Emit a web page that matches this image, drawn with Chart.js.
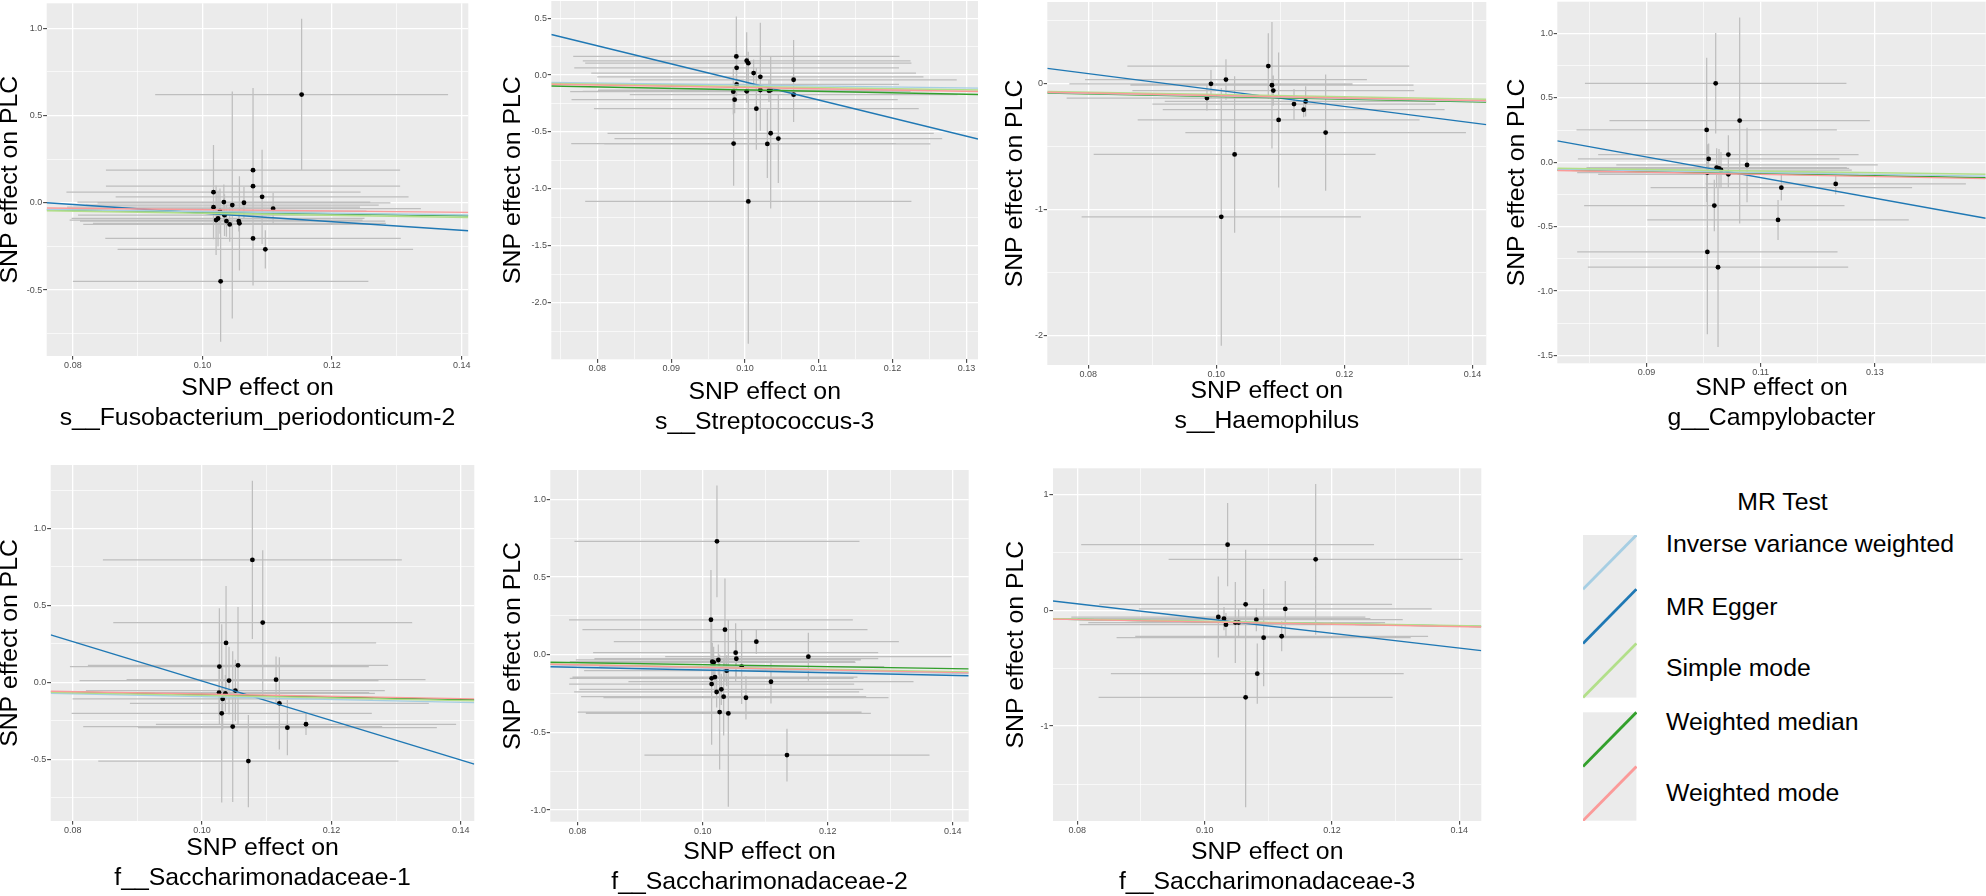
<!DOCTYPE html>
<html><head><meta charset="utf-8">
<script src="https://cdn.jsdelivr.net/npm/chart.js@4.4.0/dist/chart.umd.min.js"></script>
<style>
html,body{margin:0;padding:0;background:#fff;}
body{width:1986px;height:896px;position:relative;overflow:hidden;font-family:'Liberation Sans',Arial,sans-serif;}
canvas{position:absolute;}
.lgt{position:absolute;font-size:24.8px;line-height:24.8px;color:#000;white-space:nowrap;}
</style></head><body>
<script>
// ---------- DATA ----------
const methodNames = ['Inverse variance weighted','MR Egger','Simple mode','Weighted median','Weighted mode'];
const methodColors = ['#a6cee3','#1f78b4','#b2df8a','#33a02c','#fb9a99'];
const outcomeName = 'PLC';
const exposureNames = ['s__Fusobacterium_periodonticum-2','s__Streptococcus-3','s__Haemophilus','g__Campylobacter','f__Saccharimonadaceae-1','f__Saccharimonadaceae-2','f__Saccharimonadaceae-3'];

// Panel 1
const p1Exposure = [0.1153,0.1078,0.1078,0.1092,0.1017,0.1017,0.1033,0.1046,0.1064,0.1109,0.1027,0.1034,0.1024,0.1021,0.1037,0.1042,0.1056,0.1057,0.1078,0.1097,0.1028];
const p1Outcome  = [0.620,0.187,0.095,0.034,0.061,-0.025,0.004,-0.013,0.000,-0.034,-0.048,-0.071,-0.090,-0.099,-0.105,-0.124,-0.105,-0.118,-0.204,-0.267,-0.450];
const p1SeExp    = [0.0226,0.0227,0.0227,0.0226,0.0227,0.0226,0.0226,0.0226,0.0226,0.0228,0.0226,0.0226,0.0226,0.0226,0.0226,0.0226,0.0226,0.0226,0.0228,0.0228,0.0228];
const p1SeOut    = [0.434,0.47,0.15,0.27,0.27,0.16,0.10,0.65,0.09,0.09,0.13,0.12,0.16,0.20,0.09,0.10,0.06,0.27,0.27,0.11,0.346];
const p1Slope    = [-0.50,-2.46,-0.60,-0.53,-0.39];
const p1Intercept= [0,0.187,0,0,0];
const p1XRange = [0.07596,0.14102], p1YRange = [-0.878,1.143];
const p1XTicks = [0.08,0.10,0.12,0.14], p1XLabels = ['0.08','0.10','0.12','0.14'];
const p1YTicks = [-0.5,0.0,0.5,1.0], p1YLabels = ['-0.5','0.0','0.5','1.0'];

// Panel 2
const p2Exposure = [0.09883,0.09887,0.10023,0.10045,0.10117,0.10208,0.09887,0.09842,0.10023,0.10208,0.10325,0.10348,0.09860,0.10154,0.10348,0.10452,0.10303,0.09846,0.10659,0.10659,0.10045];
const p2Outcome  = [0.164,0.064,0.126,0.105,0.018,-0.015,-0.082,-0.146,-0.143,-0.131,-0.137,-0.131,-0.216,-0.295,-0.511,-0.558,-0.605,-0.602,-0.041,-0.172,-1.110];
const p2SeExp    = [0.0221,0.0220,0.0222,0.0221,0.0220,0.0221,0.0220,0.0221,0.0222,0.0220,0.0221,0.0222,0.0221,0.0220,0.0221,0.0222,0.0221,0.0220,0.0221,0.0222,0.0221];
const p2SeOut    = [0.35,0.15,0.25,0.10,0.12,0.475,0.10,0.20,0.10,0.12,0.10,0.29,0.12,0.36,0.66,0.39,0.30,0.37,0.35,0.24,1.25];
const p2Slope    = [-0.87,-15.87,-1.00,-1.30,-1.10];
const p2Intercept= [0,1.527,0,0,0];
const p2XRange = [0.07376,0.13157], p2YRange = [-2.497,0.651];
const p2XTicks = [0.08,0.09,0.10,0.11,0.12,0.13], p2XLabels = ['0.08','0.09','0.10','0.11','0.12','0.13'];
const p2YTicks = [-2.0,-1.5,-1.0,-0.5,0.0,0.5], p2YLabels = ['-2.0','-1.5','-1.0','-0.5','0.0','0.5'];

// Panel 3
const p3Exposure = [0.10812,0.09917,0.10151,0.09854,0.10869,0.10890,0.10973,0.11213,0.11364,0.11395,0.11707,0.10286,0.10078];
const p3Outcome  = [0.136,-0.005,0.029,-0.118,-0.016,-0.058,-0.291,-0.165,-0.210,-0.144,-0.391,-0.564,-1.058];
const p3SeExp    = [0.0220,0.0221,0.0220,0.0219,0.0221,0.0220,0.0220,0.0221,0.0220,0.0220,0.0219,0.0220,0.0218];
const p3SeOut    = [0.26,0.11,0.16,0.10,0.50,0.12,0.535,0.12,0.06,0.12,0.46,0.62,1.02];
const p3Slope    = [-1.00,-6.50,-0.89,-1.05,-0.98];
const p3Intercept= [0,0.596,0,0,0];
const p3XRange = [0.07362,0.14215], p3YRange = [-2.231,0.643];
const p3XTicks = [0.08,0.10,0.12,0.14], p3XLabels = ['0.08','0.10','0.12','0.14'];
const p3YTicks = [-2,-1,0], p3YLabels = ['-2','-1','0'];

// Panel 4
const p4Exposure = [0.10212,0.10632,0.10054,0.10089,0.10434,0.10761,0.10229,0.10270,0.10305,0.10066,0.10434,0.11362,0.12314,0.11304,0.10188,0.10066,0.10253];
const p4Outcome  = [0.613,0.324,0.251,0.026,0.060,-0.021,-0.041,-0.047,-0.060,-0.080,-0.093,-0.197,-0.168,-0.448,-0.336,-0.696,-0.815];
const p4SeExp    = [0.0229,0.0228,0.0228,0.0229,0.0228,0.0229,0.0228,0.0228,0.0229,0.0228,0.0228,0.0229,0.0228,0.0229,0.0228,0.0228,0.0228];
const p4SeOut    = [0.39,0.80,0.56,0.12,0.15,0.29,0.15,0.15,0.14,0.22,0.10,0.10,0.08,0.155,0.20,0.64,0.62];
const p4Slope    = [-0.72,-8.01,-0.62,-0.80,-0.85];
const p4Intercept= [0,0.762,0,0,0];
const p4XRange = [0.07438,0.14941], p4YRange = [-1.561,1.247];
const p4XTicks = [0.09,0.11,0.13], p4XLabels = ['0.09','0.11','0.13'];
const p4YTicks = [-1.5,-1.0,-0.5,0.0,0.5,1.0], p4YLabels = ['-1.5','-1.0','-0.5','0.0','0.5','1.0'];

// Panel 5
const p5Exposure = [0.10778,0.10938,0.10371,0.10268,0.10556,0.10417,0.11144,0.10263,0.10361,0.10515,0.10319,0.11195,0.10304,0.10474,0.11319,0.11607,0.10716];
const p5Outcome  = [0.796,0.388,0.256,0.102,0.110,0.011,0.017,-0.067,-0.072,-0.054,-0.108,-0.137,-0.202,-0.288,-0.295,-0.273,-0.512];
const p5SeExp    = [0.0231,0.0231,0.0232,0.0231,0.0232,0.0231,0.0231,0.0232,0.0231,0.0231,0.0232,0.0231,0.0232,0.0231,0.0231,0.0232,0.0232];
const p5SeOut    = [0.515,0.47,0.37,0.38,0.38,0.22,0.15,0.15,0.12,0.20,0.20,0.30,0.58,0.49,0.18,0.07,0.30];
const p5Slope    = [-0.93,-12.84,-0.85,-0.80,-0.76];
const p5Intercept= [0,1.292,0,0,0];
const p5XRange = [0.07661,0.14208], p5YRange = [-0.902,1.413];
const p5XTicks = [0.08,0.10,0.12,0.14], p5XLabels = ['0.08','0.10','0.12','0.14'];
const p5YTicks = [-0.5,0.0,0.5,1.0], p5YLabels = ['-0.5','0.0','0.5','1.0'];

// Panel 6
const p6Exposure = [0.10229,0.10133,0.10357,0.10859,0.11691,0.10528,0.10539,0.10624,0.10155,0.10176,0.10251,0.10384,0.10144,0.10197,0.10144,0.10224,0.10299,0.10336,0.10693,0.11093,0.10272,0.10411,0.11349];
const p6Outcome  = [0.730,0.225,0.161,0.084,-0.013,0.013,-0.026,-0.077,-0.045,-0.049,-0.034,-0.103,-0.152,-0.144,-0.189,-0.240,-0.223,-0.270,-0.277,-0.174,-0.369,-0.378,-0.646];
const p6SeExp    = [0.0228,0.0227,0.0228,0.0228,0.0229,0.0228,0.0227,0.0228,0.0228,0.0227,0.0228,0.0228,0.0227,0.0228,0.0228,0.0228,0.0227,0.0228,0.0228,0.0228,0.0227,0.0228,0.0228];
const p6SeOut    = [0.36,0.32,0.33,0.08,0.155,0.19,0.12,0.24,0.12,0.10,0.10,0.10,0.10,0.10,0.39,0.10,0.10,0.25,0.14,0.14,0.37,0.60,0.17];
const p6Slope    = [-0.85,-0.867,-0.78,-0.64,-0.82];
const p6Intercept= [0,-0.0114,0,0,0];
const p6XRange = [0.07563,0.14256], p6YRange = [-1.075,1.189];
const p6XTicks = [0.08,0.10,0.12,0.14], p6XLabels = ['0.08','0.10','0.12','0.14'];
const p6YTicks = [-1.0,-0.5,0.0,0.5,1.0], p6YLabels = ['-1.0','-0.5','0.0','0.5','1.0'];

// Panel 7
const p7Exposure = [0.10361,0.11744,0.10644,0.11267,0.10215,0.10304,0.10335,0.10482,0.10534,0.10812,0.10927,0.11210,0.10827,0.10644];
const p7Outcome  = [0.567,0.440,0.052,0.012,-0.058,-0.072,-0.124,-0.106,-0.106,-0.081,-0.236,-0.224,-0.547,-0.751];
const p7SeExp    = [0.0230,0.0231,0.0230,0.0230,0.0231,0.0230,0.0230,0.0231,0.0230,0.0230,0.0231,0.0230,0.0230,0.0231];
const p7SeOut    = [0.36,0.65,0.47,0.24,0.35,0.10,0.10,0.35,0.12,0.10,0.42,0.13,0.26,0.95];
const p7Slope    = [-0.98,-6.37,-0.95,-0.98,-1.00];
const p7Intercept= [0,0.566,0,0,0];
const p7XRange = [0.07618,0.14346], p7YRange = [-1.819,1.226];
const p7XTicks = [0.08,0.10,0.12,0.14], p7XLabels = ['0.08','0.10','0.12','0.14'];
const p7YTicks = [-1,0,1], p7YLabels = ['-1','0','1'];

// ---------- LAYOUT (positions / styles) ----------
const panelBoxes = [
  {L:46.7,  T:3.3,   R:468.3,  B:356.0, yt:10.0,   xt2:418.3},
  {L:551.3, T:1.0,   R:978.0,  B:359.3, yt:513.0,  xt2:421.7},
  {L:1047.3,T:2.0,   R:1486.3, B:365.0, yt:1014.7, xt2:420.7},
  {L:1557.3,T:1.7,   R:1985.7, B:363.3, yt:1516.7, xt2:418.3},
  {L:50.7,  T:465.0, R:474.3,  B:821.0, yt:10.0,   xt2:878.3},
  {L:550.3, T:470.0, R:968.7,  B:821.7, yt:513.0,  xt2:881.7},
  {L:1053.0,T:468.3, R:1481.3, B:821.0, yt:1016.3, xt2:881.7}
];
const FONT = "'Liberation Sans', Arial, sans-serif";
const TITLE_SIZE = 24.8, TITLE_LH = 30.2, YTITLE_LH = 20, TICK_SIZE = 9;
const drawOrder = [3,5,2,4,1]; // IVW, Egger, Simple, WMedian, WMode (lower = on top)

const panels = [
  {ex:p1Exposure,out:p1Outcome,sx:p1SeExp,sy:p1SeOut,b:p1Slope,a:p1Intercept,xr:p1XRange,yr:p1YRange,xt:p1XTicks,xl:p1XLabels,yt:p1YTicks,yl:p1YLabels},
  {ex:p2Exposure,out:p2Outcome,sx:p2SeExp,sy:p2SeOut,b:p2Slope,a:p2Intercept,xr:p2XRange,yr:p2YRange,xt:p2XTicks,xl:p2XLabels,yt:p2YTicks,yl:p2YLabels},
  {ex:p3Exposure,out:p3Outcome,sx:p3SeExp,sy:p3SeOut,b:p3Slope,a:p3Intercept,xr:p3XRange,yr:p3YRange,xt:p3XTicks,xl:p3XLabels,yt:p3YTicks,yl:p3YLabels},
  {ex:p4Exposure,out:p4Outcome,sx:p4SeExp,sy:p4SeOut,b:p4Slope,a:p4Intercept,xr:p4XRange,yr:p4YRange,xt:p4XTicks,xl:p4XLabels,yt:p4YTicks,yl:p4YLabels},
  {ex:p5Exposure,out:p5Outcome,sx:p5SeExp,sy:p5SeOut,b:p5Slope,a:p5Intercept,xr:p5XRange,yr:p5YRange,xt:p5XTicks,xl:p5XLabels,yt:p5YTicks,yl:p5YLabels},
  {ex:p6Exposure,out:p6Outcome,sx:p6SeExp,sy:p6SeOut,b:p6Slope,a:p6Intercept,xr:p6XRange,yr:p6YRange,xt:p6XTicks,xl:p6XLabels,yt:p6YTicks,yl:p6YLabels},
  {ex:p7Exposure,out:p7Outcome,sx:p7SeExp,sy:p7SeOut,b:p7Slope,a:p7Intercept,xr:p7XRange,yr:p7YRange,xt:p7XTicks,xl:p7XLabels,yt:p7YTicks,yl:p7YLabels}
];

const bgPlugin = {
  id:'panelBg',
  beforeDraw(chart){
    const {ctx, chartArea:a} = chart;
    ctx.save(); ctx.fillStyle = '#EBEBEB';
    ctx.fillRect(a.left, a.top, a.right - a.left, a.bottom - a.top);
    ctx.restore();
  }
};

function withMinor(major, lo, hi){
  const s = major[1] - major[0]; const all = major.slice();
  for (let i = -1; i < major.length; i++){
    const v = i < 0 ? major[0] - s/2 : major[i] + s/2;
    if (v > lo && v < hi) all.push(+v.toFixed(6));
  }
  return all.sort((p,q)=>p-q);
}
function majorIndex(v, major){
  for (let k=0;k<major.length;k++) if (Math.abs(v-major[k])<1e-7) return k;
  return -1;
}

function makeChart(p, g, idx){
  const cl = Math.round(g.yt - YTITLE_LH/2);
  const ct = idx < 4 ? 0 : Math.round(g.T - 8);
  const cr = Math.round(g.R + 15);
  const cb = Math.round(g.xt2 + TITLE_LH/2);
  const ySW = g.L - cl, xSH = cb - g.B, padTop = g.T - ct, padRight = cr - g.R;
  const cv = document.createElement('canvas');
  cv.width = cr - cl; cv.height = cb - ct;
  cv.style.left = cl + 'px'; cv.style.top = ct + 'px';
  cv.style.width = (cr - cl) + 'px'; cv.style.height = (cb - ct) + 'px';
  document.body.appendChild(cv);

  const bars = [];
  p.ex.forEach((x,i)=>{
    const y = p.out[i];
    bars.push({x:x - p.sx[i], y:y}, {x:x + p.sx[i], y:y}, {x:null, y:null});
    bars.push({x:x, y:y - p.sy[i]}, {x:x, y:y + p.sy[i]}, {x:null, y:null});
  });
  const pts = p.ex.map((x,i)=>({x:x, y:p.out[i]}));
  const datasets = [
    {type:'line', data:bars, borderColor:'#BEBEBE', borderWidth:1.25, pointRadius:0, spanGaps:false, order:20, clip:0},
    {type:'scatter', data:pts, pointRadius:2.4, pointBackgroundColor:'#000', pointBorderWidth:0, order:15, clip:0}
  ];
  methodNames.forEach((m,k)=>{
    const x0 = p.xr[0], x1 = p.xr[1];
    datasets.push({type:'line', label:m, data:[{x:x0, y:p.a[k] + p.b[k]*x0},{x:x1, y:p.a[k] + p.b[k]*x1}],
      borderColor:methodColors[k], borderWidth:1.45, pointRadius:0, order:drawOrder[k], clip:0});
  });

  const xAll = withMinor(p.xt, p.xr[0], p.xr[1]);
  const yAll = withMinor(p.yt, p.yr[0], p.yr[1]);
  const gridFor = (major) => ({
    color:'#FFFFFF',
    lineWidth: c => (c.tick && majorIndex(c.tick.value, major) >= 0) ? 1.3 : 0.65,
    tickLength:3.6,
    tickColor: c => (c.tick && majorIndex(c.tick.value, major) >= 0) ? '#333333' : 'rgba(0,0,0,0)',
    tickWidth:1,
    drawOnChartArea:true
  });

  new Chart(cv, {
    type:'scatter',
    data:{datasets},
    plugins:[bgPlugin],
    options:{
      responsive:false, animation:false, events:[],
      layout:{padding:{left:0, top:padTop, right:padRight, bottom:0}, autoPadding:false},
      plugins:{legend:{display:false}, tooltip:{enabled:false}},
      scales:{
        x:{type:'linear', position:'bottom', min:p.xr[0], max:p.xr[1], bounds:'data',
          afterBuildTicks:s=>{ s.ticks = xAll.map(v=>({value:v})); },
          afterFit:s=>{ s.height = xSH; s.paddingLeft = 0; s.paddingRight = 0; s.paddingTop = 0; s.paddingBottom = 0; },
          ticks:{autoSkip:false, maxRotation:0, minRotation:0, padding:0.5, color:'#4D4D4D', font:{family:FONT, size:TICK_SIZE},
            callback:v=>{ const k = majorIndex(v, p.xt); return k >= 0 ? p.xl[k] : ''; }},
          grid:gridFor(p.xt),
          border:{display:false},
          title:{display:true, text:['SNP effect on', exposureNames[idx]], color:'#000', padding:0,
            font:{family:FONT, size:TITLE_SIZE, lineHeight:TITLE_LH/TITLE_SIZE}}
        },
        y:{type:'linear', position:'left', min:p.yr[0], max:p.yr[1], bounds:'data',
          afterBuildTicks:s=>{ s.ticks = yAll.map(v=>({value:v})); },
          afterFit:s=>{ s.width = ySW; s.paddingLeft = 0; s.paddingRight = 0; s.paddingTop = 0; s.paddingBottom = 0; },
          ticks:{autoSkip:false, padding:0.8, color:'#4D4D4D', font:{family:FONT, size:TICK_SIZE},
            callback:v=>{ const k = majorIndex(v, p.yt); return k >= 0 ? p.yl[k] : ''; }},
          grid:gridFor(p.yt),
          border:{display:false},
          title:{display:true, text:'SNP effect on ' + outcomeName, color:'#000', padding:0,
            font:{family:FONT, size:TITLE_SIZE, lineHeight:YTITLE_LH/TITLE_SIZE}}
        }
      }
    }
  });
}
panels.forEach((p,i)=>makeChart(p, panelBoxes[i], i));

// ---------- LEGEND ----------
const legendTitle = 'MR Test';
const keyLeft = 1583.3, keyW = 53.4, keyH = 54.2;
const keyTops = [535.0, 589.2, 643.4, 712.3, 766.5];
const labelLeft = 1666;
const labelCenters = [544.0, 606.7, 668.3, 722.3, 793.3];

const t = document.createElement('div');
t.className = 'lgt'; t.textContent = legendTitle;
t.style.left = (1782.5 - 150) + 'px'; t.style.width = '300px'; t.style.textAlign = 'center';
t.style.top = (501.7 - 12) + 'px';
document.body.appendChild(t);

const NS = 'http://www.w3.org/2000/svg';
const svg = document.createElementNS(NS, 'svg');
const svgTop = keyTops[0], svgH = keyTops[4] + keyH - keyTops[0];
svg.setAttribute('width', keyW); svg.setAttribute('height', svgH);
svg.style.position = 'absolute'; svg.style.left = keyLeft + 'px'; svg.style.top = svgTop + 'px';
[[0,3],[3,5]].forEach(([s,e])=>{
  const r = document.createElementNS(NS,'rect');
  r.setAttribute('x',0); r.setAttribute('y', keyTops[s]-svgTop);
  r.setAttribute('width',keyW); r.setAttribute('height', keyTops[e-1]+keyH-keyTops[s]);
  r.setAttribute('fill','#EBEBEB'); svg.appendChild(r);
});
methodNames.forEach((m,k)=>{
  const y0 = keyTops[k]-svgTop;
  const l = document.createElementNS(NS,'line');
  l.setAttribute('x1',0); l.setAttribute('y1',y0+keyH); l.setAttribute('x2',keyW); l.setAttribute('y2',y0);
  l.setAttribute('stroke',methodColors[k]); l.setAttribute('stroke-width',2.8);
  svg.appendChild(l);
  const d = document.createElement('div');
  d.className = 'lgt'; d.textContent = m;
  d.style.left = labelLeft + 'px'; d.style.top = (labelCenters[k] - 12) + 'px';
  document.body.appendChild(d);
});
document.body.appendChild(svg);
</script>
</body></html>
